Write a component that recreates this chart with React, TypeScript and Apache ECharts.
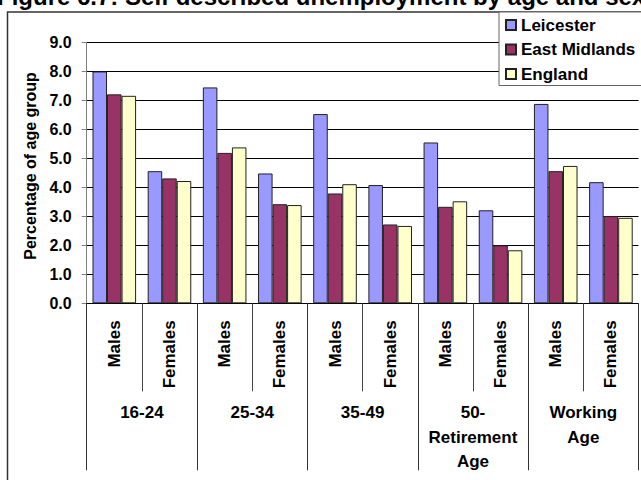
import React, { useEffect, useRef } from "react";
import * as echarts from "echarts";

const titleText = "Figure 6.7: Self described unemployment by age and sex";
const yAxisName = "Percentage of age group";
const seriesNames = ["Leicester", "East Midlands", "England"];
const subCategories = ["Males", "Females", "Males", "Females", "Males", "Females", "Males", "Females", "Males", "Females"];
const groupLabels = ["16-24", "25-34", "35-49", "50-\nRetirement\nAge", "Working\nAge"];
const leicester = [8.0, 4.56, 7.45, 4.48, 6.53, 4.08, 5.55, 3.21, 6.88, 4.18];
const eastMidlands = [7.21, 4.31, 5.19, 3.42, 3.79, 2.72, 3.33, 2.0, 4.56, 3.01];
const england = [7.16, 4.22, 5.38, 3.39, 4.11, 2.67, 3.52, 1.83, 4.74, 2.95];
const colors = ["#9999FF", "#993366", "#FFFFCC"];

const FONT = '"Liberation Sans", Arial, sans-serif';

export default function App() {
  const ref = useRef<HTMLDivElement>(null);
  useEffect(() => {
    if (!ref.current) return;
    const chart = echarts.init(ref.current, undefined, { renderer: "svg" });
    const values = [leicester, eastMidlands, england];
    chart.setOption({
      animation: false,
      backgroundColor: "#fff",
      textStyle: { fontFamily: FONT },
      graphic: [
        {
          type: "rect",
          z: 0,
          shape: { x: 7.5, y: 12, width: 700, height: 500 },
          style: { fill: "none", stroke: "#333", lineWidth: 1.5 },
        },
        {
          type: "text",
          x: -3,
          y: 8,
          style: {
            text: titleText,
            font: `bold 24px ${FONT}`,
            fill: "#000",
            textVerticalAlign: "bottom",
            verticalAlign: "bottom",
          },
        },
      ],
      legend: {
        orient: "vertical",
        left: 499,
        top: 12,
        icon: "rect",
        itemWidth: 10,
        itemHeight: 10,
        itemGap: 7.5,
        padding: [4.5, 40, 3, 6],
        backgroundColor: "#fff",
        borderColor: "#666",
        borderWidth: 1,
        z: 10,
        textStyle: { fontFamily: FONT, fontWeight: "bold", fontSize: 17, color: "#000" },
        data: seriesNames,
      },
      grid: { left: 86.7, right: 2.5, top: 42.5, bottom: 176.7, containLabel: false },
      xAxis: [
        {
          type: "category",
          position: "bottom",
          data: subCategories,
          axisLine: { show: true, lineStyle: { color: "#000", width: 1 } },
          axisTick: { show: true, interval: 0, length: 88, lineStyle: { color: "#444" } },
          axisLabel: {
            interval: 0,
            rotate: 90,
            margin: 17,
            fontFamily: FONT,
            fontWeight: "bold",
            fontSize: 17,
            color: "#000",
          },
        },
        {
          type: "category",
          position: "bottom",
          data: groupLabels,
          axisLine: { show: false },
          axisTick: { show: true, interval: 0, length: 167, lineStyle: { color: "#333" } },
          axisLabel: {
            interval: 0,
            margin: 97,
            lineHeight: 24.5,
            fontFamily: FONT,
            fontWeight: "bold",
            fontSize: 17,
            color: "#000",
            align: "center",
          },
        },
      ],
      yAxis: {
        type: "value",
        min: 0,
        max: 9,
        interval: 1,
        name: yAxisName,
        nameLocation: "middle",
        nameGap: 46,
        nameTextStyle: {
          fontFamily: FONT,
          fontWeight: "bold",
          fontSize: 16,
          color: "#000",
          padding: [0, 0, 0, 14],
        },
        axisLine: { show: true, lineStyle: { color: "#808080", width: 1 } },
        axisTick: { show: true, length: 5, lineStyle: { color: "#808080" } },
        axisLabel: {
          margin: 15,
          fontFamily: FONT,
          fontWeight: "bold",
          fontSize: 16,
          color: "#000",
          formatter: (v: number) => v.toFixed(1),
        },
        splitLine: { show: true, lineStyle: { color: "#000", width: 1 } },
      },
      series: seriesNames.map((name, i) => ({
        name,
        type: "bar",
        xAxisIndex: 0,
        data: values[i],
        barGap: "0%",
        barCategoryGap: "21%",
        itemStyle: { color: colors[i], borderColor: "#222", borderWidth: 1 },
      })),
    });
    return () => chart.dispose();
  }, []);
  return (
    <div
      ref={ref}
      style={{ position: "fixed", left: 0, top: 0, width: 641, height: 480 }}
    />
  );
}
